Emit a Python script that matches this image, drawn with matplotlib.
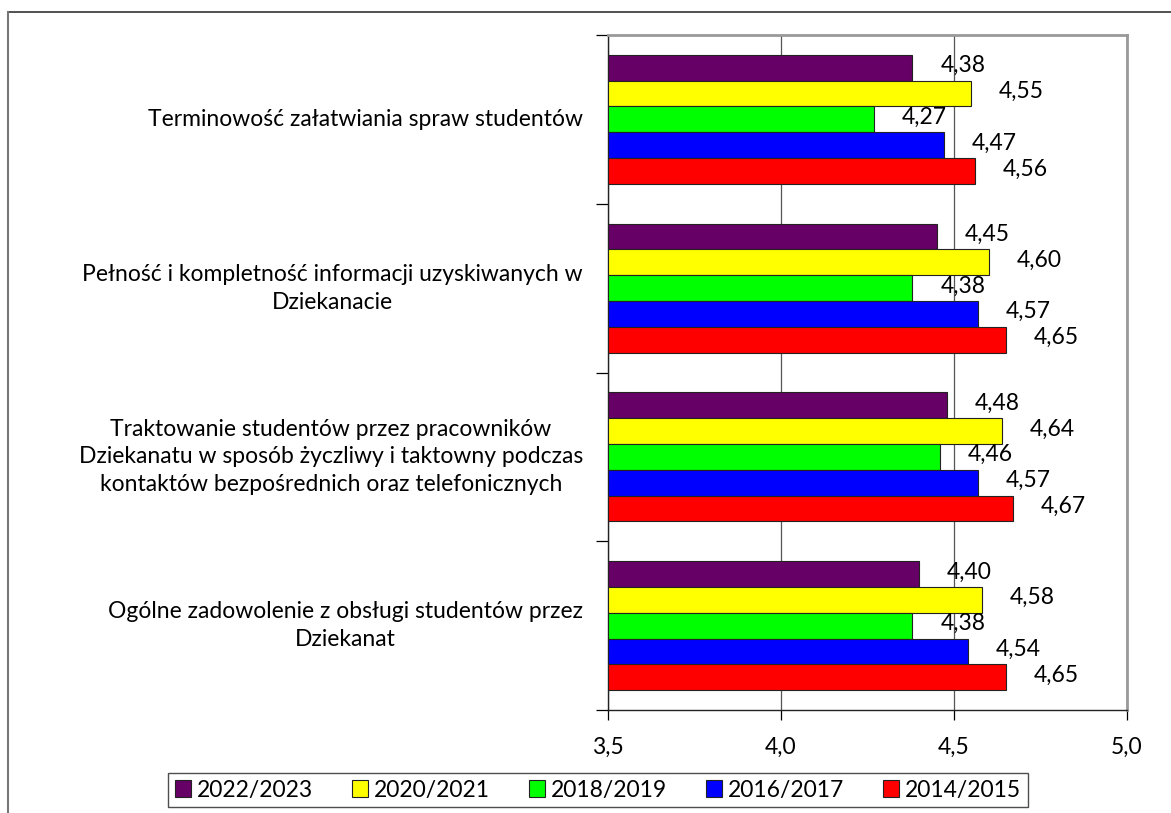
import numpy as np
import matplotlib.pyplot as plt
from matplotlib.lines import Line2D

plt.rcParams['font.family'] = ['Lato', 'DejaVu Sans']

categories = [
    "Terminowość załatwiania spraw studentów",
    "Pełność i kompletność informacji uzyskiwanych w\nDziekanacie",
    "Traktowanie studentów przez pracowników\nDziekanatu w sposób życzliwy i taktowny podczas\nkontaktów bezpośrednich oraz telefonicznych",
    "Ogólne zadowolenie z obsługi studentów przez\nDziekanat",
]
years = ["2022/2023", "2020/2021", "2018/2019", "2016/2017", "2014/2015"]
colors = ["#660066", "#FFFF00", "#00FF00", "#0000FF", "#FF0000"]

v_2022 = [4.38, 4.45, 4.48, 4.40]
v_2020 = [4.55, 4.60, 4.64, 4.58]
v_2018 = [4.27, 4.38, 4.46, 4.38]
v_2016 = [4.47, 4.57, 4.57, 4.54]
v_2014 = [4.56, 4.65, 4.67, 4.65]
series = [v_2022, v_2020, v_2018, v_2016, v_2014]

FS = 16.5

fig = plt.figure(figsize=(11.71, 8.13), dpi=100)
ax = fig.add_axes([608 / 1171, 1 - 710 / 813, 519 / 1171, 675 / 813])

n = len(series)
bh = 0.764 / n
y = np.arange(len(categories))
for i, (vals, col, yr) in enumerate(zip(series, colors, years)):
    pos = y - 0.382 + bh * (i + 0.5)
    ax.barh(pos, np.array(vals) - 3.5, left=3.5, height=bh, color=col,
            edgecolor="#222222", linewidth=0.8, label=yr, zorder=3)
    for p, v in zip(pos, vals):
        ax.annotate(f"{v:.2f}".replace(".", ","), (v, p), xytext=(20, 1.5),
                    textcoords="offset points", ha="left", va="center",
                    fontsize=FS, zorder=4)

ax.set_xlim(3.5, 5.0)
ax.set_ylim(3.5, -0.5)
ax.set_xticks([3.5, 4.0, 4.5, 5.0])
ax.set_xticklabels(["3,5", "4,0", "4,5", "5,0"], fontsize=FS)
ax.set_yticks([-0.5, 0.5, 1.5, 2.5, 3.5])
ax.set_yticklabels([])
ax.tick_params(axis="y", direction="out", length=9, width=0.9)
ax.tick_params(axis="x", direction="out", length=7, width=0.9, pad=12)
ax.grid(axis="x", color="#555555", linewidth=0.9, zorder=0)
for s in ["left", "bottom"]:
    ax.spines[s].set_color("#222222")
    ax.spines[s].set_linewidth(1.0)
for s in ["top", "right"]:
    ax.spines[s].set_color("#999999")
    ax.spines[s].set_linewidth(2.0)

for yi, cat in zip(y, categories):
    ax.text(-0.048, yi, cat, transform=ax.get_yaxis_transform(),
            ha="right", va="center", multialignment="center",
            fontsize=FS, linespacing=1.4)

leg = fig.legend(loc="center", bbox_to_anchor=(598 / 1171, 1 - 790 / 813),
                 ncol=5, fontsize=FS, frameon=True, fancybox=False,
                 handlelength=0.7, handleheight=0.7, handletextpad=0.25,
                 columnspacing=1.7, borderpad=0.3)
leg.get_frame().set_edgecolor("#222222")
leg.get_frame().set_linewidth(1.0)

# outer chart border (top and left)
fig.add_artist(Line2D([8 / 1171, 1], [1 - 12 / 813, 1 - 12 / 813], color="#333333", lw=1.2))
fig.add_artist(Line2D([8 / 1171, 8 / 1171], [0, 1 - 12 / 813], color="#777777", lw=1.5))

fig.savefig("out.png", dpi=100)
